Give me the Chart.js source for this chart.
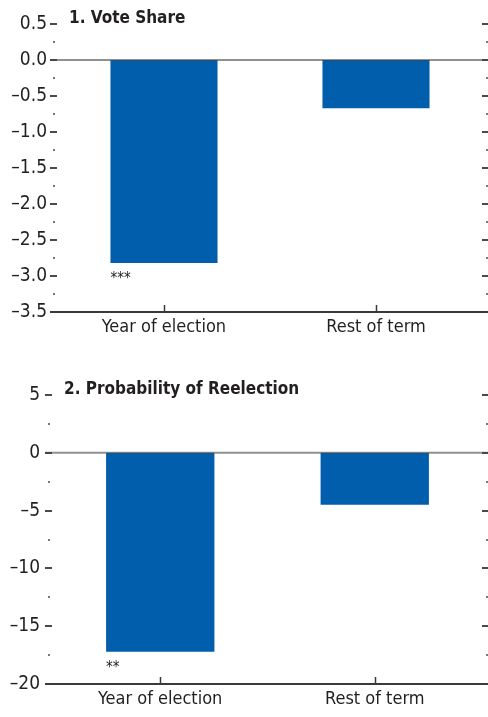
<!DOCTYPE html>
<html>
<head>
<meta charset="utf-8">
<script src="https://cdn.jsdelivr.net/npm/chart.js@4.4.1/dist/chart.umd.min.js"></script>
<style>
  html, body { margin: 0; padding: 0; background: #fff; }
  .panel { position: relative; width: 488px; }
  #p1 { height: 350px; }
  #p2 { height: 367px; }
</style>
</head>
<body>
<div class="panel" id="p1"><canvas id="voteChart"></canvas></div>
<div class="panel" id="p2"><canvas id="reelectChart"></canvas></div>
<script>
const categories = ['Year of election', 'Rest of term'];
const voteShare = [-2.82, -0.67];
const reelection = [-17.2, -4.5];
const voteStars = ['***', ''];
const reelectStars = ['**', ''];

const FONT = "'Liberation Sans Narrow', 'DejaVu Sans Condensed', 'Arial Narrow', sans-serif";
const BAR = '#005EAC';

const fmtNum = (v, dec) => (dec ? v.toFixed(dec) : String(v)).replace('-', '\u2013');
const isMajor = (v, step) => Math.abs(v / step - Math.round(v / step)) < 1e-6;

// draws the little tick marks, zero line, bottom axis, title and significance stars
function panelDecor(title, stars, majorStep) {
    return {
        id: 'decor',
        afterDraw(chart) {
            const { ctx, chartArea: a, scales: { x, y } } = chart;
            const W = chart.width;
            ctx.save();
            // y ticks left and right
            y.ticks.forEach(t => {
                const py = Math.round(y.getPixelForValue(t.value));
                const maj = isMajor(t.value, majorStep);
                ctx.strokeStyle = maj ? '#4a4a4a' : '#777';
                ctx.lineWidth = 2;
                ctx.beginPath();
                if (maj) {
                    ctx.moveTo(a.left - 8, py); ctx.lineTo(a.left - 1, py);
                    ctx.stroke();
                    ctx.beginPath();
                    ctx.moveTo(a.right, py); ctx.lineTo(W, py);
                } else {
                    ctx.moveTo(a.left - 5, py); ctx.lineTo(a.left - 3, py);
                    ctx.moveTo(a.right + 4, py); ctx.lineTo(W, py);
                }
                ctx.stroke();
            });
            // zero line
            const y0 = y.getPixelForValue(0);
            ctx.strokeStyle = 'rgba(70,70,70,0.6)';
            ctx.lineWidth = 2;
            ctx.beginPath(); ctx.moveTo(a.left - 8, y0); ctx.lineTo(W, y0); ctx.stroke();
            // bottom axis
            ctx.strokeStyle = '#3a3a3a';
            ctx.lineWidth = 2;
            ctx.beginPath(); ctx.moveTo(a.left - 8, a.bottom); ctx.lineTo(W, a.bottom); ctx.stroke();
            // category ticks (pointing up)
            ctx.lineWidth = 1.5;
            categories.forEach((c, i) => {
                const px = Math.round(x.getPixelForValue(i)) + 0.5;
                ctx.beginPath(); ctx.moveTo(px, a.bottom - 7); ctx.lineTo(px, a.bottom); ctx.stroke();
            });
            // title
            ctx.fillStyle = '#231f20';
            ctx.font = "bold 17px " + FONT;
            ctx.textBaseline = 'alphabetic';
            ctx.textAlign = 'left';
            ctx.fillText(title, a.left + 11, y.getPixelForValue(y.max) - 1);
            // stars under bars
            ctx.font = "15px " + FONT;
            ctx.textBaseline = 'top';
            const meta = chart.getDatasetMeta(0);
            meta.data.forEach((bar, i) => {
                if (!stars[i]) return;
                ctx.fillText(stars[i], bar.x - bar.width / 2, bar.y + 9);
            });
            ctx.restore();
        }
    };
}

function makeChart(id, values, opts) {
    return new Chart(document.getElementById(id), {
        type: 'bar',
        data: { labels: categories, datasets: [{ data: values, backgroundColor: BAR, borderWidth: 0, barPercentage: 1, categoryPercentage: 0.505 }] },
        options: {
            responsive: true, maintainAspectRatio: false, animation: false,
            layout: { padding: { top: opts.top, right: 6, left: 0, bottom: 0 } },
            plugins: { legend: { display: false }, tooltip: { enabled: false } },
            scales: {
                x: {
                    grid: { display: false, drawTicks: false }, border: { display: false },
                    ticks: { color: '#231f20', font: { family: FONT, size: 18 }, padding: 5, maxRotation: 0 },
                    afterFit(s) { s.height = opts.bottom; }
                },
                y: {
                    min: opts.min, max: opts.max,
                    grid: { display: false, drawTicks: false }, border: { display: false },
                    ticks: {
                        stepSize: opts.minorStep, autoSkip: false, padding: opts.pad,
                        color: '#231f20', font: { family: FONT, size: 19 },
                        callback: v => isMajor(v, opts.majorStep) ? fmtNum(v, opts.dec) : ''
                    },
                    afterFit(s) { s.width = opts.left; }
                }
            }
        },
        plugins: [panelDecor(opts.title, opts.stars, opts.majorStep)]
    });
}

makeChart('voteChart', voteShare, {
    title: '1. Vote Share', stars: voteStars,
    min: -3.5, max: 0.5, minorStep: 0.25, majorStep: 0.5, dec: 1,
    top: 24, bottom: 38, left: 58, pad: 11
});
makeChart('reelectChart', reelection, {
    title: '2. Probability of Reelection', stars: reelectStars,
    min: -20, max: 5, minorStep: 2.5, majorStep: 5, dec: 0,
    top: 45, bottom: 33, left: 53, pad: 13
});
</script>
</body>
</html>
